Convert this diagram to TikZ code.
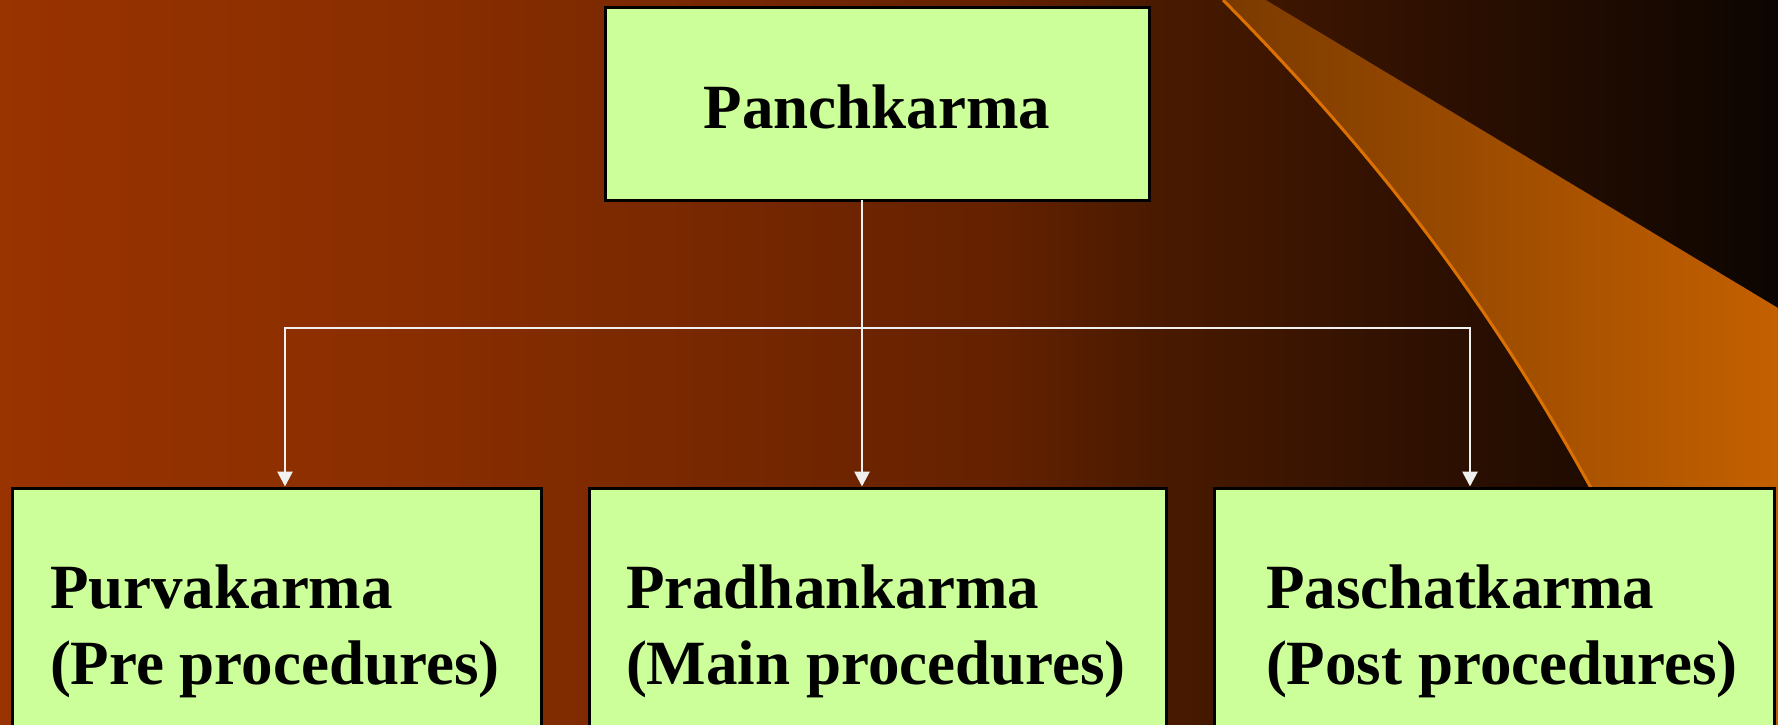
\documentclass[tikz,border=0pt]{standalone}
\usepackage{fontspec}
\setmainfont{Liberation Serif}
\usetikzlibrary{arrows.meta}
\definecolor{bga}{RGB}{153,51,0}
\definecolor{bgb}{RGB}{138,46,0}
\definecolor{bgc}{RGB}{120,40,0}
\definecolor{bgd}{RGB}{100,33,0}
\definecolor{bge}{RGB}{74,26,0}
\definecolor{bgf}{RGB}{46,16,1}
\definecolor{bgg}{RGB}{30,11,1}
\definecolor{bgh}{RGB}{12,5,1}
\definecolor{swl}{RGB}{122,58,0}
\definecolor{swr}{RGB}{196,96,0}
\definecolor{swedge}{RGB}{220,112,0}
\definecolor{boxfill}{RGB}{204,255,153}
\pgfdeclarehorizontalshading{bgshade}{100bp}{color(0bp)=(bga); color(25bp)=(bga); color(36.25bp)=(bgb); color(44.7bp)=(bgc); color(53.1bp)=(bgd); color(57.3bp)=(bge); color(65.2bp)=(bgf); color(70bp)=(bgg); color(75bp)=(bgh); color(100bp)=(bgh)}
\tikzset{
  greenbox/.style={draw=black, line width=3pt, fill=boxfill, inner sep=0pt, outer sep=0pt, rectangle},
  boxtext/.style={inner sep=0pt, outer sep=0pt, align=left, font=\fontsize{63}{75.5}\selectfont\bfseries},
  wline/.style={draw=white!94!black, line width=2.8pt},
  warrow/.style={wline, -{Triangle[width=15pt,length=15pt]}, shorten >=1.5pt}
}
\begin{document}
\begin{tikzpicture}[x=1pt,y=-1pt]
\useasboundingbox (0,0) rectangle (1778,725);
\clip (0,0) rectangle (1778,725);
\fill[shading=bgshade] (0,0) rectangle (1778,725);
% swoosh
\fill[left color=swl, right color=swr] (1223,0) -- (1266,0) -- (1778,308) -- (1778,725) -- (1700,725) -- (1591,488) .. controls (1497,318) and (1391,170) .. (1223,0) -- cycle;
\draw[swedge, line width=3pt] (1700,725) -- (1591,488) .. controls (1497,318) and (1391,170) .. (1223,0);
% boxes
\node[greenbox, minimum width=544pt, minimum height=192pt, text height=48pt, text depth=0pt,
      font=\fontsize{63}{75.5}\selectfont\bfseries] (top) at (877,104) {Panchkarma};
\node[greenbox, minimum width=529pt, minimum height=300pt] (b1) at (277.3,638) {};
\node[greenbox, minimum width=577pt, minimum height=300pt] (b2) at (877.5,638) {};
\node[greenbox, minimum width=560pt, minimum height=300pt] (b3) at (1494,638) {};
\node[boxtext, anchor=base west] (t1) at (50,684) {Purvakarma\\(Pre procedures)};
\node[boxtext, anchor=base west] (t2) at (626,684) {Pradhankarma\\(Main procedures)};
\node[boxtext, anchor=base west] (t3) at (1266,684) {Paschatkarma\\(Post procedures)};
% connectors
\coordinate (hub) at (862,328);
\coordinate (j1) at (285,328);
\coordinate (j3) at (1470,328);
\draw[wline] (top.south -| hub) -- (hub);
\draw[warrow] (hub) -- (j1) -- (j1 |- b1.north);
\draw[warrow] (hub) -- (hub |- b2.north);
\draw[warrow] (hub) -- (j3) -- (j3 |- b3.north);
\end{tikzpicture}
\end{document}
